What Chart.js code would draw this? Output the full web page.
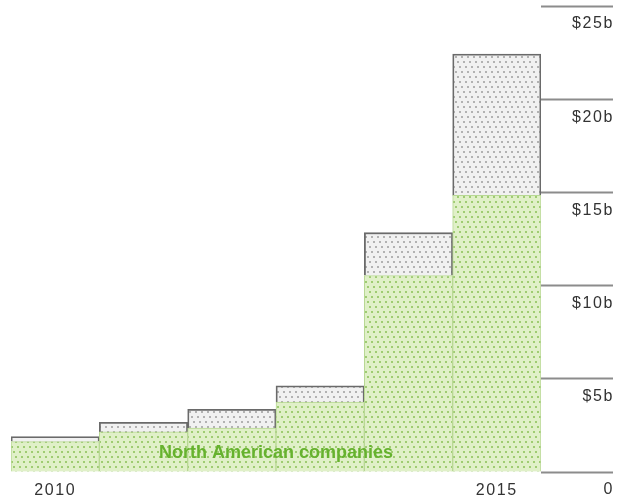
<!DOCTYPE html>
<html>
<head>
<meta charset="utf-8">
<script src="https://cdn.jsdelivr.net/npm/chart.js@4/dist/chart.umd.min.js"></script>
<style>
  html, body { margin: 0; padding: 0; background: #fff; }
  canvas { display: block; }
</style>
</head>
<body>
<canvas id="chart" width="618" height="497"></canvas>
<script>
// Investment per year, in billions of dollars
const years = ['2010', '2011', '2012', '2013', '2014', '2015'];
const northAmerican = [1.63, 2.15, 2.35, 3.75, 10.54, 14.84];
const otherCompanies = [0.27, 0.52, 1.01, 0.87, 2.30, 7.58];
const yTickValues = [0, 5, 10, 15, 20, 25];
const yTickLabels = ['0', '$5b', '$10b', '$15b', '$20b', '$25b'];
const shownYears = ['2010', '2015'];
const seriesLabel = 'North American companies';

const axisFont = '"Liberation Sans", Arial, sans-serif';

// Dotted fill: rows of dots shifted each row, giving a slanted screen
function dotPattern(base, dot) {
  const tile = document.createElement('canvas');
  tile.width = 6;
  tile.height = 15;
  const t = tile.getContext('2d');
  t.fillStyle = base;
  t.fillRect(0, 0, 6, 15);
  t.fillStyle = dot;
  [[1, 1], [3, 6], [5, 11]].forEach(([x, y]) => {
    t.fillRect(x, y, 2, 2);
    if (x + 2 > 6) t.fillRect(x - 6, y, 2, 2);
  });
  return t.createPattern(tile, 'repeat');
}

const ctx = document.getElementById('chart').getContext('2d');
const greenFill = dotPattern('#e0f0c8', '#9fcc72');
const greyFill = dotPattern('#f1f1f1', '#b2b2b2');

// Wider tracking for the axis text
const tracking = {
  id: 'tracking',
  beforeDraw(chart) { chart.ctx.letterSpacing = '1.6px'; }
};

// Right-hand value labels sit under their tick lines; series name over the bars
const overlayText = {
  id: 'overlayText',
  afterDraw(chart) {
    const c = chart.ctx;
    const y = chart.scales.y;
    const x = chart.scales.x;
    c.save();
    c.letterSpacing = '1.6px';
    c.font = '16px ' + axisFont;
    c.fillStyle = '#333';
    c.textAlign = 'right';
    c.textBaseline = 'middle';
    yTickValues.forEach((v, i) => {
      c.fillText(yTickLabels[i], y.right - 4, y.getPixelForValue(v) + 18);
    });
    c.letterSpacing = '0px';
    c.font = 'bold 18px ' + axisFont;
    c.fillStyle = '#66b22e';
    c.textAlign = 'center';
    const cx = (x.getPixelForValue(2) + x.getPixelForValue(3)) / 2;
    c.fillText(seriesLabel, cx, y.getPixelForValue(1.0));
    c.restore();
  }
};

new Chart(ctx, {
  type: 'bar',
  data: {
    labels: years,
    datasets: [
      {
        label: seriesLabel,
        data: northAmerican,
        backgroundColor: greenFill,
        borderColor: '#b8d894',
        borderWidth: 1,
        borderSkipped: 'bottom',
        categoryPercentage: 1,
        barPercentage: 1
      },
      {
        label: 'Other companies',
        data: otherCompanies,
        backgroundColor: greyFill,
        borderColor: '#6a6a6a',
        borderWidth: 1.8,
        borderSkipped: 'bottom',
        categoryPercentage: 1,
        barPercentage: 1
      }
    ]
  },
  options: {
    responsive: false,
    animation: false,
    layout: { padding: { left: 11, top: 6, right: 0, bottom: 0 } },
    plugins: {
      legend: { display: false },
      tooltip: { enabled: false }
    },
    scales: {
      x: {
        stacked: true,
        grid: { display: false },
        border: { display: false },
        ticks: {
          autoSkip: false,
          maxRotation: 0,
          padding: 1,
          color: '#333',
          font: { family: axisFont, size: 16 },
          callback(value) {
            const lbl = this.getLabelForValue(value);
            return shownYears.includes(lbl) ? lbl : '';
          }
        },
        afterFit(scale) { scale.height = 25; }
      },
      y: {
        stacked: true,
        position: 'right',
        min: 0,
        max: 25,
        border: { display: false },
        grid: {
          drawOnChartArea: false,
          drawTicks: true,
          tickLength: 72,
          tickColor: '#8c8c8c',
          tickWidth: 2
        },
        ticks: { stepSize: 5, display: false },
        afterFit(scale) { scale.width = 77; }
      }
    }
  },
  plugins: [tracking, overlayText]
});
</script>
</body>
</html>
